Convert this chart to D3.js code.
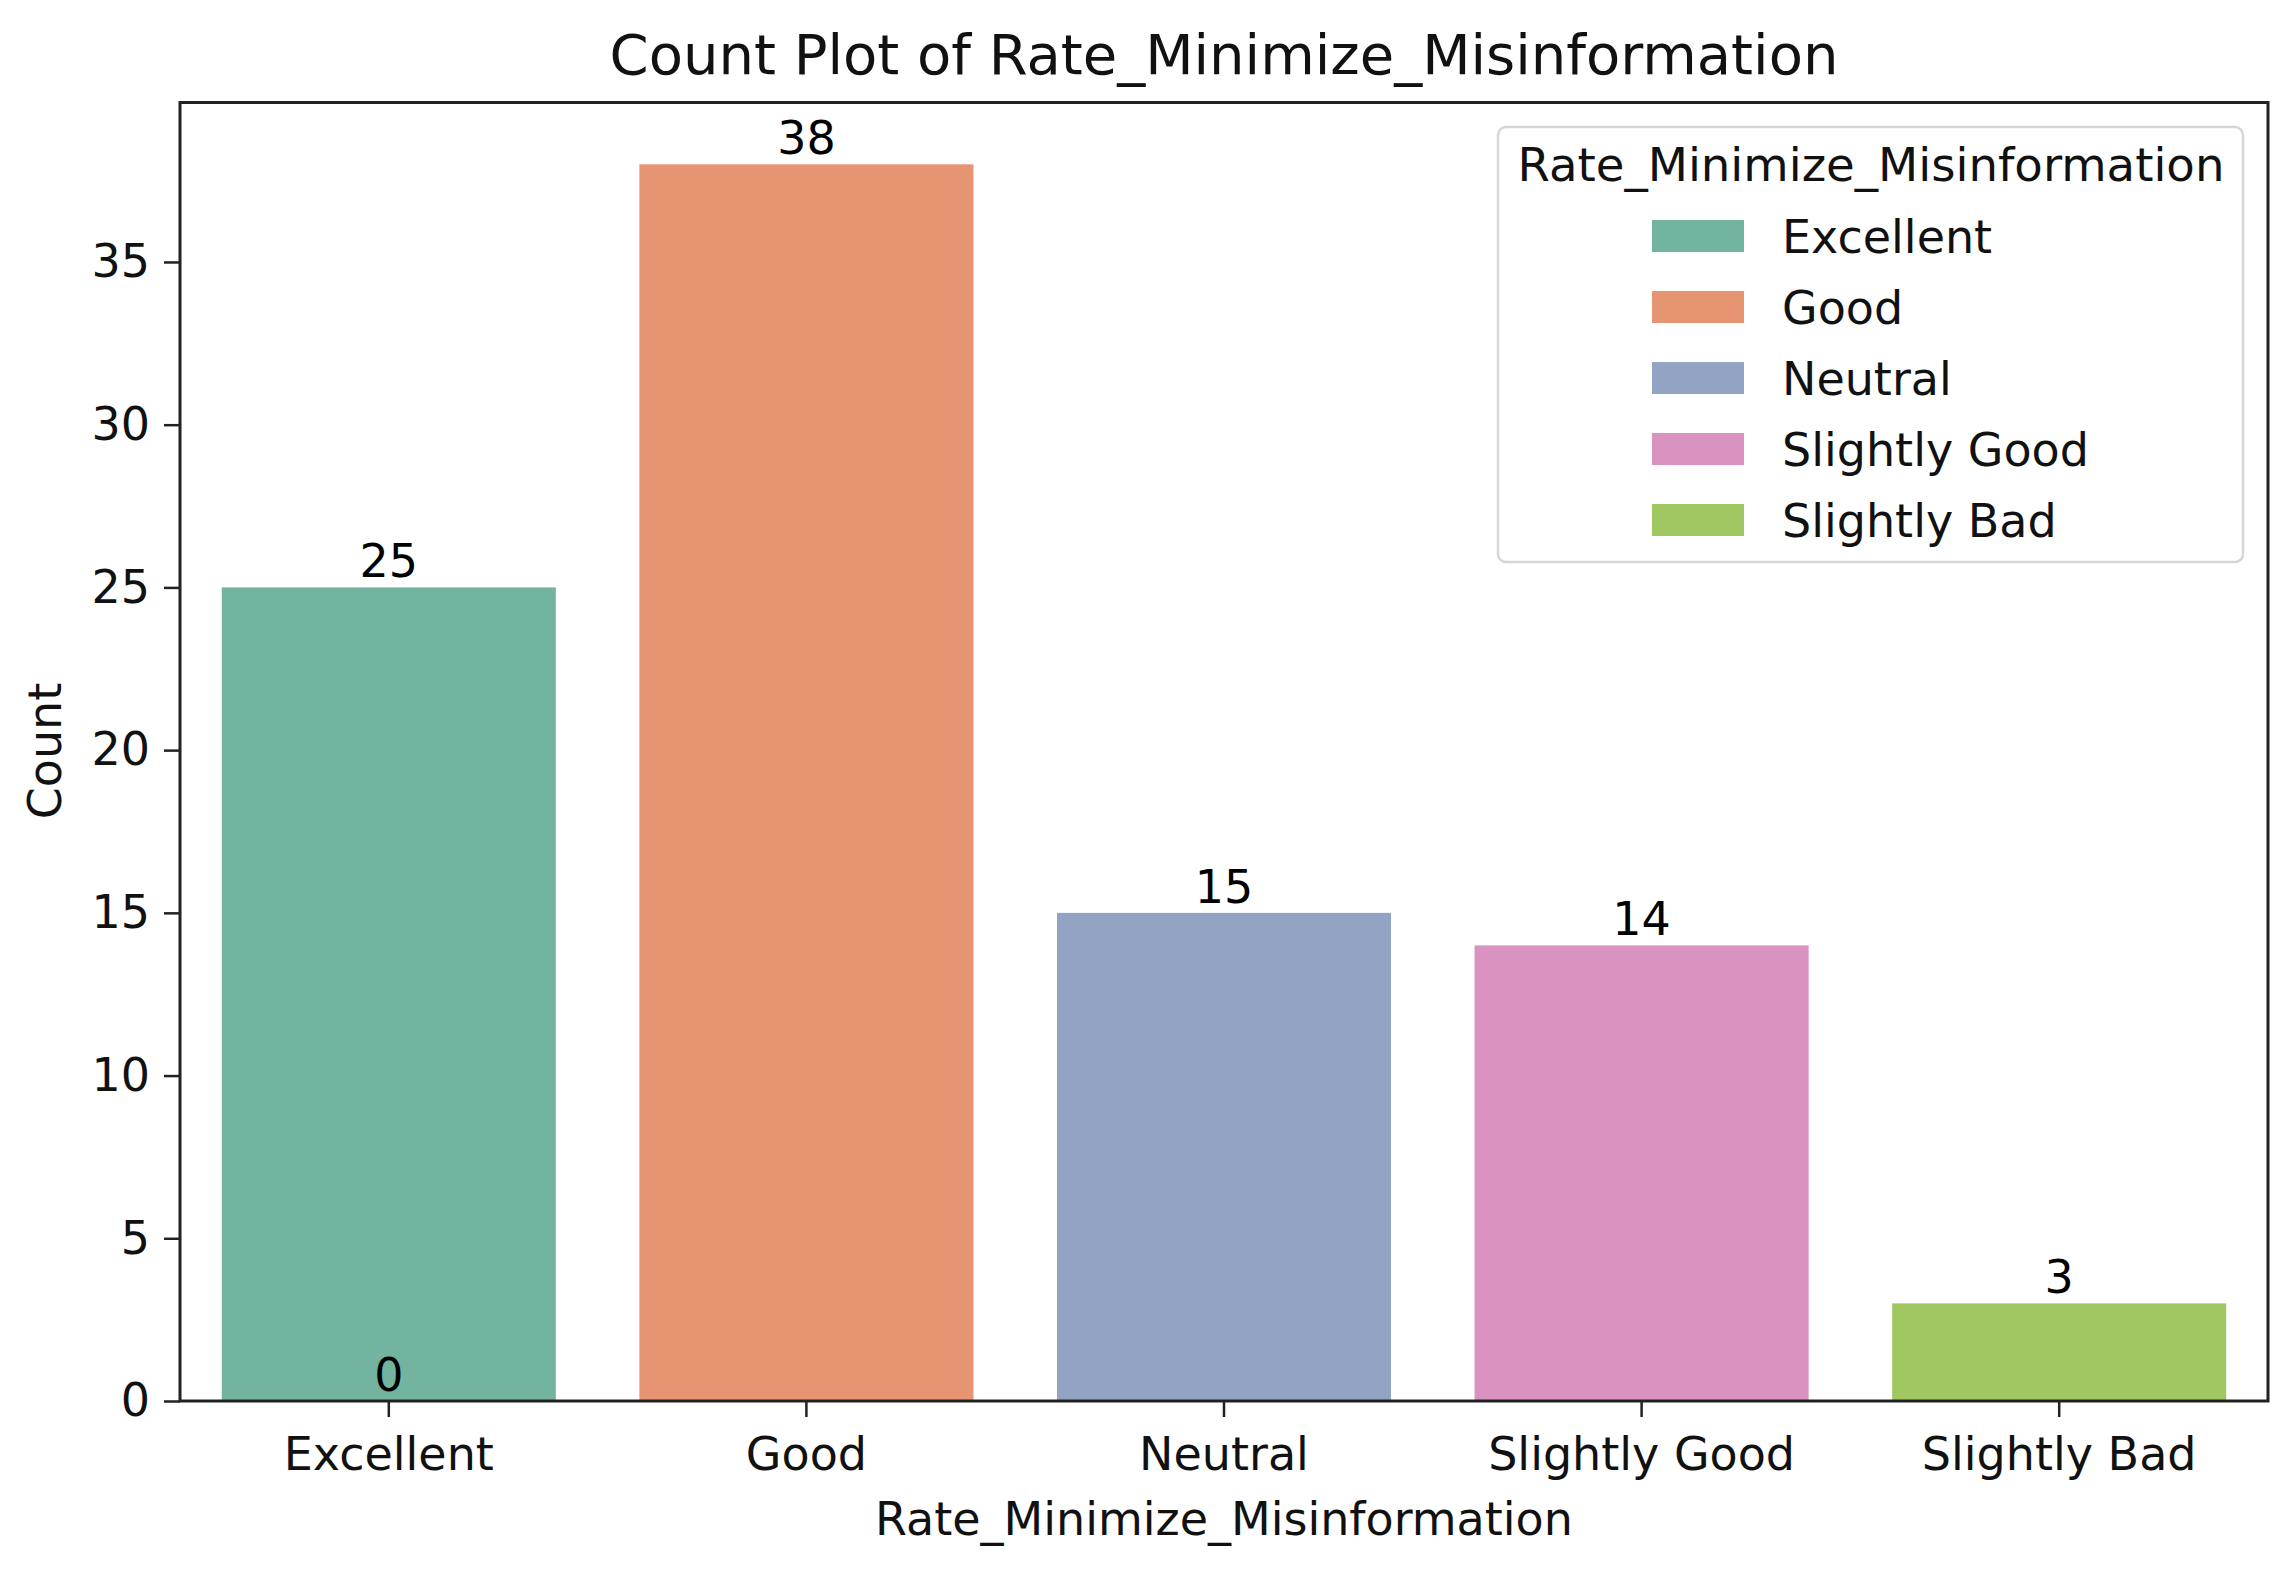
<!DOCTYPE html>
<html>
<head>
<meta charset="utf-8">
<script src="https://cdn.jsdelivr.net/npm/d3@7"></script>
<style>
  html, body { margin: 0; padding: 0; background: #fff; }
  svg { display: block; font-family: "DejaVu Sans", sans-serif; }
</style>
</head>
<body>
<svg id="chart" width="2296" height="1575"></svg>
<script>
// ---- data ----
const categories = ["Excellent", "Good", "Neutral", "Slightly Good", "Slightly Bad"];
const counts = [25, 38, 15, 14, 3];
const barColors = ["#72b4a0", "#e79473", "#93a3c4", "#da92c0", "#a1c763"];
const yTickValues = [0, 5, 10, 15, 20, 25, 30, 35];
const extraLabelCategories = ["Excellent"];
const extraLabelValues = [0];
const titleText = "Count Plot of Rate_Minimize_Misinformation";
const xLabelText = "Rate_Minimize_Misinformation";
const yLabelText = "Count";
const legendTitle = "Rate_Minimize_Misinformation";

// ---- layout ----
const W = 2296, H = 1575;
const L = 180, R = 2268, T = 102.5, B = 1401;
const fs = 46, titleFs = 56;
const svg = d3.select("#chart");

const x = d3.scaleBand().domain(categories).range([L, R]).paddingInner(0.2).paddingOuter(0.1);
const y = d3.scaleLinear().domain([0, 39.9]).range([B, T]);

// bars
svg.append("g").selectAll("rect").data(categories).join("rect")
  .attr("x", d => x(d))
  .attr("y", (d, i) => y(counts[i]))
  .attr("width", x.bandwidth())
  .attr("height", (d, i) => y(0) - y(counts[i]))
  .attr("fill", (d, i) => barColors[i]);

// value labels
svg.append("g").selectAll("text").data(categories).join("text")
  .attr("x", d => x(d) + x.bandwidth() / 2)
  .attr("y", (d, i) => y(counts[i]) - 10)
  .attr("text-anchor", "middle")
  .attr("font-size", fs)
  .attr("fill", "#000")
  .text((d, i) => counts[i]);

svg.append("g").selectAll("text").data(extraLabelCategories).join("text")
  .attr("x", d => x(d) + x.bandwidth() / 2)
  .attr("y", (d, i) => y(extraLabelValues[i]) - 10)
  .attr("text-anchor", "middle")
  .attr("font-size", fs)
  .attr("fill", "#000")
  .text((d, i) => extraLabelValues[i]);

// axes
const yAxis = d3.axisLeft(y).tickValues(yTickValues).tickSize(16).tickPadding(14);
const gy = svg.append("g").attr("transform", `translate(${L},0)`).call(yAxis);
gy.select(".domain").remove();
gy.selectAll(".tick line").attr("stroke", "#222").attr("stroke-width", 2.5);
gy.selectAll(".tick text").attr("font-size", fs).attr("font-family", "DejaVu Sans").attr("fill", "#111");

const xAxis = d3.axisBottom(x).tickSize(16).tickPadding(20);
const gx = svg.append("g").attr("transform", `translate(0,${B})`).call(xAxis);
gx.select(".domain").remove();
gx.selectAll(".tick line").attr("stroke", "#222").attr("stroke-width", 2.5);
gx.selectAll(".tick text").attr("font-size", fs).attr("font-family", "DejaVu Sans").attr("fill", "#111");

// frame
svg.append("rect").attr("x", L).attr("y", T).attr("width", R - L).attr("height", B - T)
  .attr("fill", "none").attr("stroke", "#222").attr("stroke-width", 3);

// title and axis labels
svg.append("text").attr("x", (L + R) / 2).attr("y", 74).attr("text-anchor", "middle")
  .attr("font-size", titleFs).attr("fill", "#111").text(titleText);
svg.append("text").attr("x", (L + R) / 2).attr("y", 1535).attr("text-anchor", "middle")
  .attr("font-size", fs).attr("fill", "#111").text(xLabelText);
svg.append("text").attr("transform", `translate(61,751) rotate(-90)`).attr("text-anchor", "middle")
  .attr("font-size", fs).attr("fill", "#111").text(yLabelText);

// legend
const lg = svg.append("g");
lg.append("rect").attr("x", 1498).attr("y", 127).attr("width", 745).attr("height", 435)
  .attr("rx", 8).attr("fill", "#fff").attr("stroke", "#d6d6d6").attr("stroke-width", 2.5);
lg.append("text").attr("x", 1871).attr("y", 181).attr("text-anchor", "middle")
  .attr("font-size", 46.6).attr("fill", "#111").text(legendTitle);
const ly = d3.scalePoint().domain(categories).range([236, 520]);
const items = lg.selectAll("g.item").data(categories).join("g").attr("class", "item")
  .attr("transform", d => `translate(0,${ly(d)})`);
items.append("rect").attr("x", 1652).attr("y", -16).attr("width", 92).attr("height", 32)
  .attr("fill", (d, i) => barColors[i]);
items.append("text").attr("x", 1782).attr("y", 17).attr("font-size", fs).attr("fill", "#111").text(d => d);
</script>
</body>
</html>
